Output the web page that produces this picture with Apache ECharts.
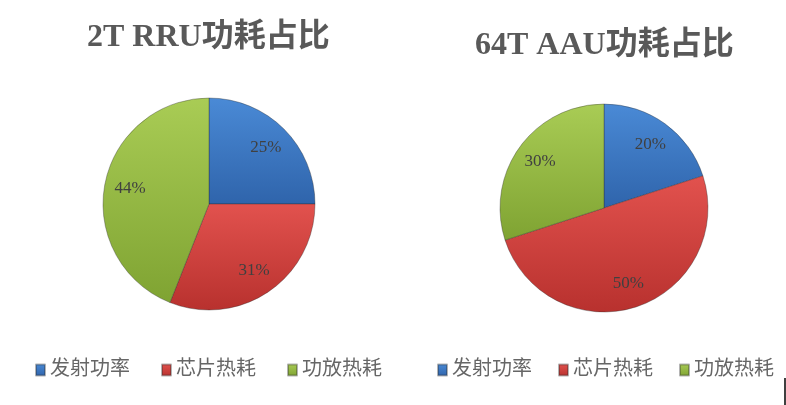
<!DOCTYPE html>
<html>
<head>
<meta charset="utf-8">
<script src="https://cdn.jsdelivr.net/npm/echarts@6/dist/echarts.min.js"></script>
<style>
  html, body { margin: 0; padding: 0; background: #fff; }
  #main { width: 786px; height: 405px; }
</style>
</head>
<body>
<div id="main"></div>
<script>
// 数据
var categories = ['发射功率', '芯片热耗', '功放热耗'];
var rruValues = [25, 31, 44];
var aauValues = [20, 50, 30];
var titles = ['2T RRU功耗占比', '64T AAU功耗占比'];

// Excel 风格的渐变色
var colors = [
  ['#4a8ad6', '#2f64ab'],
  ['#e2524e', '#b8312e'],
  ['#a9cc55', '#7fa332']
];

function grad(i) {
  return new echarts.graphic.LinearGradient(0, 0, 0, 1, [
    { offset: 0, color: colors[i][0] },
    { offset: 1, color: colors[i][1] }
  ]);
}

function pieData(values) {
  return values.map(function (v, i) {
    return { name: categories[i], value: v, itemStyle: { color: grad(i) } };
  });
}

function labelData(values) {
  return values.map(function (v, i) {
    return { name: categories[i], value: v };
  });
}

var serif = "'Liberation Serif', 'Noto Sans CJK SC', serif";

var myChart = echarts.init(document.getElementById('main'));

function pieSeries(values, center, r) {
  return [{
    type: 'pie',
    center: center,
    radius: r,
    startAngle: 90,
    clockwise: true,
    animation: false,
    label: { show: false },
    labelLine: { show: false },
    itemStyle: { borderColor: 'rgba(40,40,40,0.35)', borderWidth: 1 },
    emphasis: { disabled: true },
    data: pieData(values)
  }, {
    // 只用来放标签，位置在半径的 3/4 处
    type: 'pie',
    center: center,
    radius: [r * 0.46, r],
    startAngle: 90,
    clockwise: true,
    animation: false,
    silent: true,
    itemStyle: { color: 'rgba(0,0,0,0)' },
    label: {
      show: true,
      position: 'inside',
      formatter: '{c}%',
      fontFamily: serif,
      fontSize: 17,
      color: '#404040'
    },
    labelLine: { show: false },
    emphasis: { disabled: true },
    data: labelData(values)
  }];
}

var legendBase = {
  orient: 'horizontal',
  top: 360,
  padding: 0,
  icon: 'rect',
  itemWidth: 9,
  itemHeight: 11,
  textStyle: { fontFamily: serif, fontSize: 20, color: '#666666' },
  data: categories
};

var titleStyle = { fontFamily: serif, fontSize: 32, fontWeight: 'bold', color: '#595959' };

var option = {
  backgroundColor: '#fff',
  title: [{
    text: titles[0],
    left: 82,
    top: 17,
    textStyle: titleStyle
  }, {
    text: titles[1],
    left: 470,
    top: 25,
    textStyle: titleStyle
  }],
  legend: [
    Object.assign({}, legendBase, { left: 35, itemGap: 31, width: 390 }),
    Object.assign({}, legendBase, { left: 437, itemGap: 26, width: 349 })
  ],
  series: pieSeries(rruValues, [209, 204], 106).concat(pieSeries(aauValues, [604, 208], 104)),
  graphic: [{
    type: 'line',
    shape: { x1: 785, y1: 378, x2: 785, y2: 405 },
    style: { stroke: '#000', lineWidth: 1.5 }
  }]
};

myChart.setOption(option);
</script>
</body>
</html>
